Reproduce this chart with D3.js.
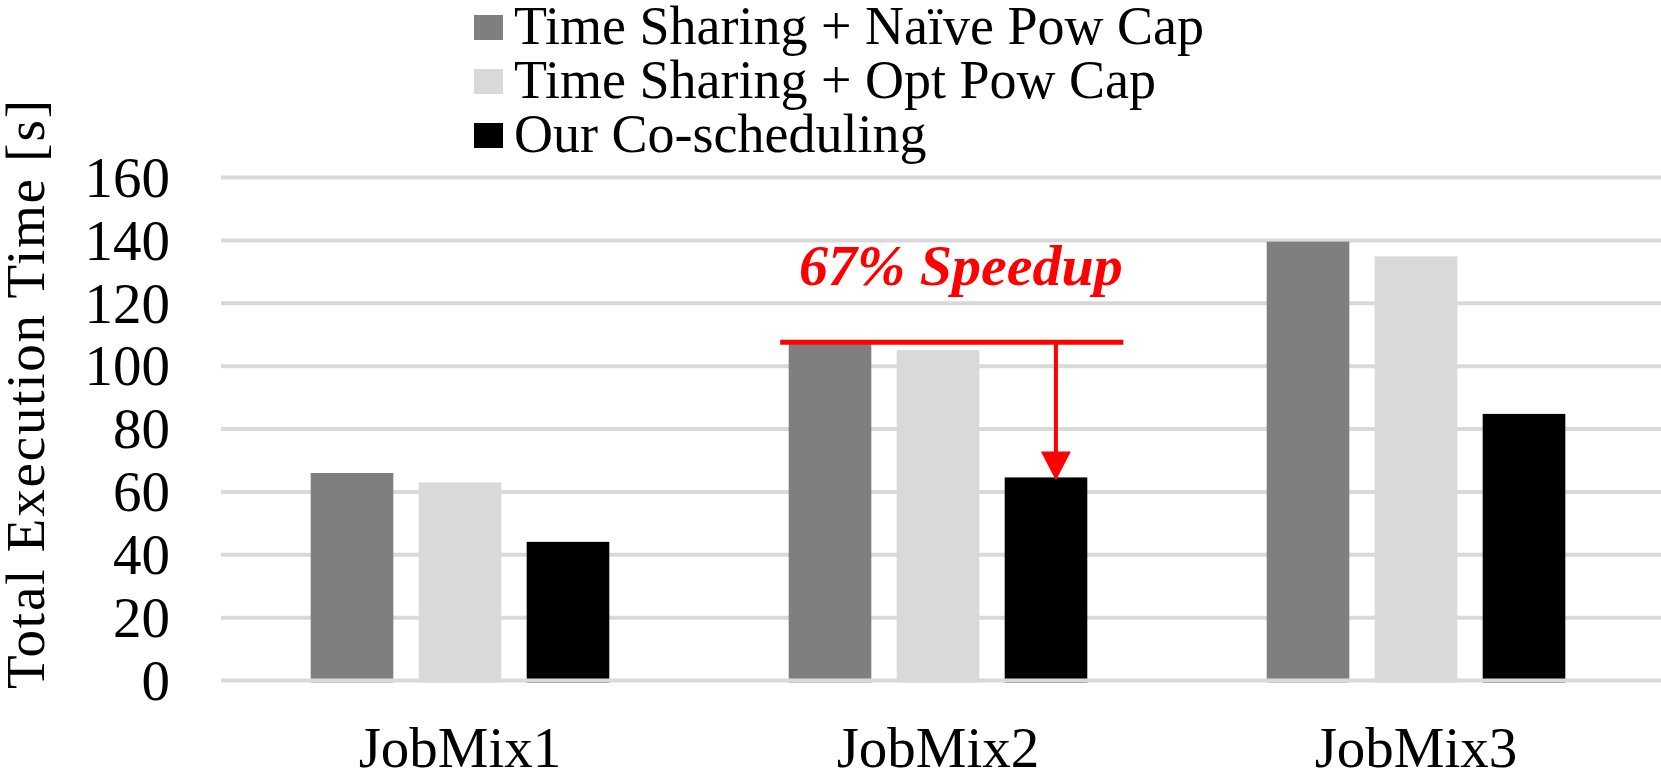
<!DOCTYPE html>
<html>
<head>
<meta charset="utf-8">
<script src="https://cdn.jsdelivr.net/npm/d3@7"></script>
<style>
  html, body { margin: 0; padding: 0; background: #fff; }
  svg { display: block; }
  text { font-family: "Liberation Serif", "Times New Roman", serif; }
</style>
</head>
<body>
<svg id="chart" width="1661" height="772"></svg>
<script>
// ---- data ----
const categories = ["JobMix1", "JobMix2", "JobMix3"];
const seriesNames = ["Time Sharing + Naïve Pow Cap", "Time Sharing + Opt Pow Cap", "Our Co-scheduling"];
const naiveValues = [66.0, 107.6, 139.6];
const optValues = [63.0, 105.1, 134.9];
const coschedValues = [44.1, 64.6, 84.8];
const yTicks = [0, 20, 40, 60, 80, 100, 120, 140, 160];
const seriesColors = ["#7f7f7f", "#d9d9d9", "#000000"];
const annotationText = "67% Speedup";

const seriesValues = [naiveValues, optValues, coschedValues];

const svg = d3.select("#chart");

const y = d3.scaleLinear().domain([0, 160]).range([680.5, 177.5]);
const x0 = d3.scaleBand().domain(categories).range([221, 1655]).paddingInner(0).paddingOuter(0);
const x1 = d3.scaleBand().domain(seriesNames).range([-149.3, 149.3]).paddingInner(0.235).paddingOuter(0);

// gridlines (excluding 0, drawn on top later)
svg.append("g").selectAll("line")
  .data(yTicks.filter(d => d !== 0))
  .join("line")
  .attr("x1", 221).attr("x2", 1661)
  .attr("y1", d => y(d)).attr("y2", d => y(d))
  .attr("stroke", "#d9d9d9").attr("stroke-width", 4);

// bars
const groups = svg.append("g").selectAll("g")
  .data(categories)
  .join("g")
  .attr("transform", d => `translate(${x0(d) + x0.bandwidth() / 2},0)`);

groups.selectAll("rect")
  .data((c, ci) => seriesNames.map((s, si) => ({ s, si, v: seriesValues[si][ci] })))
  .join("rect")
  .attr("x", d => x1(d.s))
  .attr("width", x1.bandwidth())
  .attr("y", d => y(d.v))
  .attr("height", d => y(0) - y(d.v) + 2)
  .attr("fill", d => seriesColors[d.si]);

// baseline
svg.append("line")
  .attr("x1", 221).attr("x2", 1661)
  .attr("y1", y(0)).attr("y2", y(0))
  .attr("stroke", "#d9d9d9").attr("stroke-width", 4);

// y axis labels
const yAxis = d3.axisLeft(y).tickValues(yTicks).tickSize(0).tickPadding(0);
const yg = svg.append("g").attr("transform", "translate(221,0)").call(yAxis);
yg.select(".domain").remove();
yg.selectAll("text")
  .attr("x", -51)
  .attr("dy", "0.33em")
  .attr("font-size", 57)
  .attr("font-family", "Liberation Serif, Times New Roman, serif")
  .attr("fill", "#000");

// x category labels
const xAxis = d3.axisBottom(x0).tickSize(0).tickPadding(0);
const xg = svg.append("g").attr("transform", "translate(0,767)").call(xAxis);
xg.select(".domain").remove();
xg.selectAll("text")
  .attr("y", 0).attr("dy", 0)
  .attr("font-size", 57)
  .attr("font-family", "Liberation Serif, Times New Roman, serif")
  .attr("fill", "#000");

// y title
svg.append("text")
  .attr("transform", "translate(44,394.5) rotate(-90)")
  .attr("text-anchor", "middle")
  .attr("font-size", 55)
  .attr("textLength", 589)
  .attr("lengthAdjust", "spacing")
  .attr("fill", "#000")
  .text("Total Execution Time [s]");

// legend
const legend = svg.append("g").selectAll("g")
  .data(seriesNames)
  .join("g")
  .attr("transform", (d, i) => `translate(474,${27 + i * 54})`);
legend.append("rect")
  .attr("x", 0).attr("y", -12).attr("width", 29).attr("height", 25)
  .attr("fill", (d, i) => seriesColors[i]);
legend.append("text")
  .attr("x", 40).attr("y", 17)
  .attr("font-size", 54)
  .attr("fill", "#000")
  .text(d => d);

// annotation
const ci = 1;
const topY = y(naiveValues[ci]);
const blackX = x0(categories[ci]) + x0.bandwidth() / 2 + x1(seriesNames[2]);
const darkX = x0(categories[ci]) + x0.bandwidth() / 2 + x1(seriesNames[0]);
const arrowX = blackX + x1.bandwidth() * 0.62;
const tipY = y(coschedValues[ci]) + 3;

svg.append("line")
  .attr("x1", darkX - 8.5).attr("x2", blackX + x1.bandwidth() + 36)
  .attr("y1", topY).attr("y2", topY)
  .attr("stroke", "#ff0000").attr("stroke-width", 5);
svg.append("line")
  .attr("x1", arrowX).attr("x2", arrowX)
  .attr("y1", topY).attr("y2", tipY - 25)
  .attr("stroke", "#ff0000").attr("stroke-width", 4);
svg.append("path")
  .attr("d", `M${arrowX - 15},${tipY - 29} L${arrowX + 15},${tipY - 29} L${arrowX},${tipY} Z`)
  .attr("fill", "#ff0000");

svg.append("text")
  .attr("x", 799).attr("y", 285)
  .attr("font-size", 58)
  .attr("font-weight", "bold")
  .attr("font-style", "italic")
  .attr("fill", "#ff0000")
  .text(annotationText);
</script>
</body>
</html>
